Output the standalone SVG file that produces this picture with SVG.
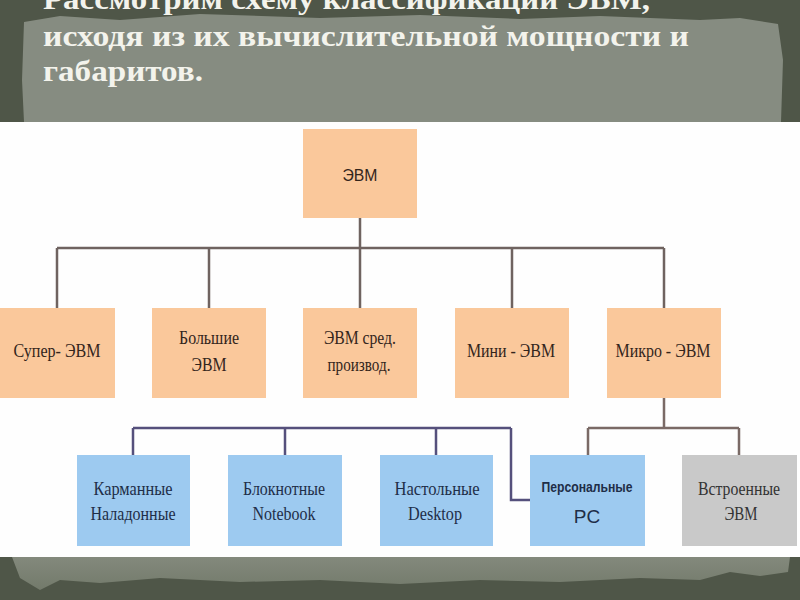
<svg xmlns="http://www.w3.org/2000/svg" width="800" height="600" viewBox="0 0 800 600">
<style>
.title{font-family:"Liberation Serif","DejaVu Serif",serif;font-weight:bold;font-size:30px;fill:#f3f3ec}
.peach{fill:#fac89b}
.blue{fill:#9dcaf0}
.gray{fill:#c9c9c9}
.t{font-family:"Liberation Serif","DejaVu Serif",serif;font-size:19px;text-anchor:middle}
.tb{fill:#33251c}
.tbl{fill:#1f2e48}
.tg{fill:#333333}
.sans{font-family:"Liberation Sans","DejaVu Sans",sans-serif;text-anchor:middle}
.c1{stroke:#6f6360;stroke-width:2.5;fill:none}
.c2{stroke:#55507c;stroke-width:2.5;fill:none}
.c3{stroke:#7a6a66;stroke-width:2.5;fill:none}
</style>
<defs>
<linearGradient id="bot" x1="0" y1="0" x2="0" y2="1">
<stop offset="0" stop-color="#83897c"/>
<stop offset="1" stop-color="#737a6b"/>
</linearGradient>
</defs>
<!-- background -->
<rect x="0" y="0" width="800" height="600" fill="#4f5648"/>
<path d="M24 22 L60 16 L120 20 L200 14 L320 18 L420 15 L520 19 L600 16 L700 20 L740 18 L778 24 L783 60 L781 122 L24 122 L22 80 Z" fill="#868c81"/>
<rect x="0" y="122" width="800" height="435" fill="#fefefe"/>
<path d="M12 557 L790 557 L788 572 L760 576 L730 572 L700 580 L640 578 L560 582 L480 580 L400 584 L320 580 L240 582 L160 578 L100 583 L60 580 L40 590 L20 578 Z" fill="url(#bot)"/>
<!-- title -->
<text class="title" x="43" y="9" textLength="607" lengthAdjust="spacingAndGlyphs">Рассмотрим схему классификации ЭВМ,</text>
<text class="title" x="43" y="46" textLength="646" lengthAdjust="spacingAndGlyphs">исходя из их вычислительной мощности и</text>
<text class="title" x="43" y="81" textLength="160" lengthAdjust="spacingAndGlyphs">габаритов.</text>
<!-- connectors -->
<g id="connectors">
<path class="c1" d="M360 218 V308 M57 248 H664 M57 248 V308 M209 248 V308 M512 248 V308 M664 248 V308"/>
<path class="c3" d="M664 398 V428 M588 428 H739 M588 428 V455 M739 428 V455"/>
<path class="c2" d="M133 428 H511 M133 428 V455 M285 428 V455 M436 428 V455 M511 428 V500 H530"/>
</g>
<!-- nodes -->
<g id="evm">
<rect class="peach" x="303" y="129" width="114" height="89"/>
<text class="sans tb" x="360" y="181" font-size="17" textLength="35" lengthAdjust="spacingAndGlyphs">ЭВМ</text>
</g>
<g id="super">
<rect class="peach" x="0" y="308" width="115" height="90"/>
<text class="t tb" x="57" y="357" textLength="87" lengthAdjust="spacingAndGlyphs">Супер- ЭВМ</text>
</g>
<g id="bolshie">
<rect class="peach" x="152" y="308" width="114" height="90"/>
<text class="t tb" x="209" y="344" textLength="60" lengthAdjust="spacingAndGlyphs">Большие</text>
<text class="t tb" x="209" y="371" textLength="35" lengthAdjust="spacingAndGlyphs">ЭВМ</text>
</g>
<g id="sredn">
<rect class="peach" x="303" y="308" width="114" height="90"/>
<text class="t tb" x="360" y="344" textLength="72" lengthAdjust="spacingAndGlyphs">ЭВМ сред.</text>
<text class="t tb" x="359" y="371" textLength="63" lengthAdjust="spacingAndGlyphs">производ.</text>
</g>
<g id="mini">
<rect class="peach" x="455" y="308" width="114" height="90"/>
<text class="t tb" x="511" y="357" textLength="88" lengthAdjust="spacingAndGlyphs">Мини - ЭВМ</text>
</g>
<g id="micro">
<rect class="peach" x="607" y="308" width="114" height="90"/>
<text class="t tb" x="663" y="357" textLength="95" lengthAdjust="spacingAndGlyphs">Микро - ЭВМ</text>
</g>
<g id="karman">
<rect class="blue" x="77" y="455" width="113" height="91"/>
<text class="t tbl" x="133" y="495" textLength="79" lengthAdjust="spacingAndGlyphs">Карманные</text>
<text class="t tbl" x="133" y="520" textLength="85" lengthAdjust="spacingAndGlyphs">Наладонные</text>
</g>
<g id="bloknot">
<rect class="blue" x="228" y="455" width="114" height="91"/>
<text class="t tbl" x="284" y="495" textLength="82" lengthAdjust="spacingAndGlyphs">Блокнотные</text>
<text class="t tbl" x="284" y="520" textLength="63" lengthAdjust="spacingAndGlyphs">Notebook</text>
</g>
<g id="nastol">
<rect class="blue" x="380" y="455" width="113" height="91"/>
<text class="t tbl" x="437" y="495" textLength="85" lengthAdjust="spacingAndGlyphs">Настольные</text>
<text class="t tbl" x="435" y="520" textLength="54" lengthAdjust="spacingAndGlyphs">Desktop</text>
</g>
<g id="person">
<rect class="blue" x="530" y="455" width="115" height="91"/>
<text class="sans tbl" x="587" y="492" font-size="15" font-weight="bold" textLength="91" lengthAdjust="spacingAndGlyphs">Персональные</text>
<text class="sans tbl" x="587" y="523" font-size="19">PC</text>
</g>
<g id="vstroen">
<rect class="gray" x="682" y="455" width="115" height="91"/>
<text class="t tg" x="739" y="495" textLength="82" lengthAdjust="spacingAndGlyphs">Встроенные</text>
<text class="t tg" x="741" y="520" textLength="33" lengthAdjust="spacingAndGlyphs">ЭВМ</text>
</g>
</svg>
